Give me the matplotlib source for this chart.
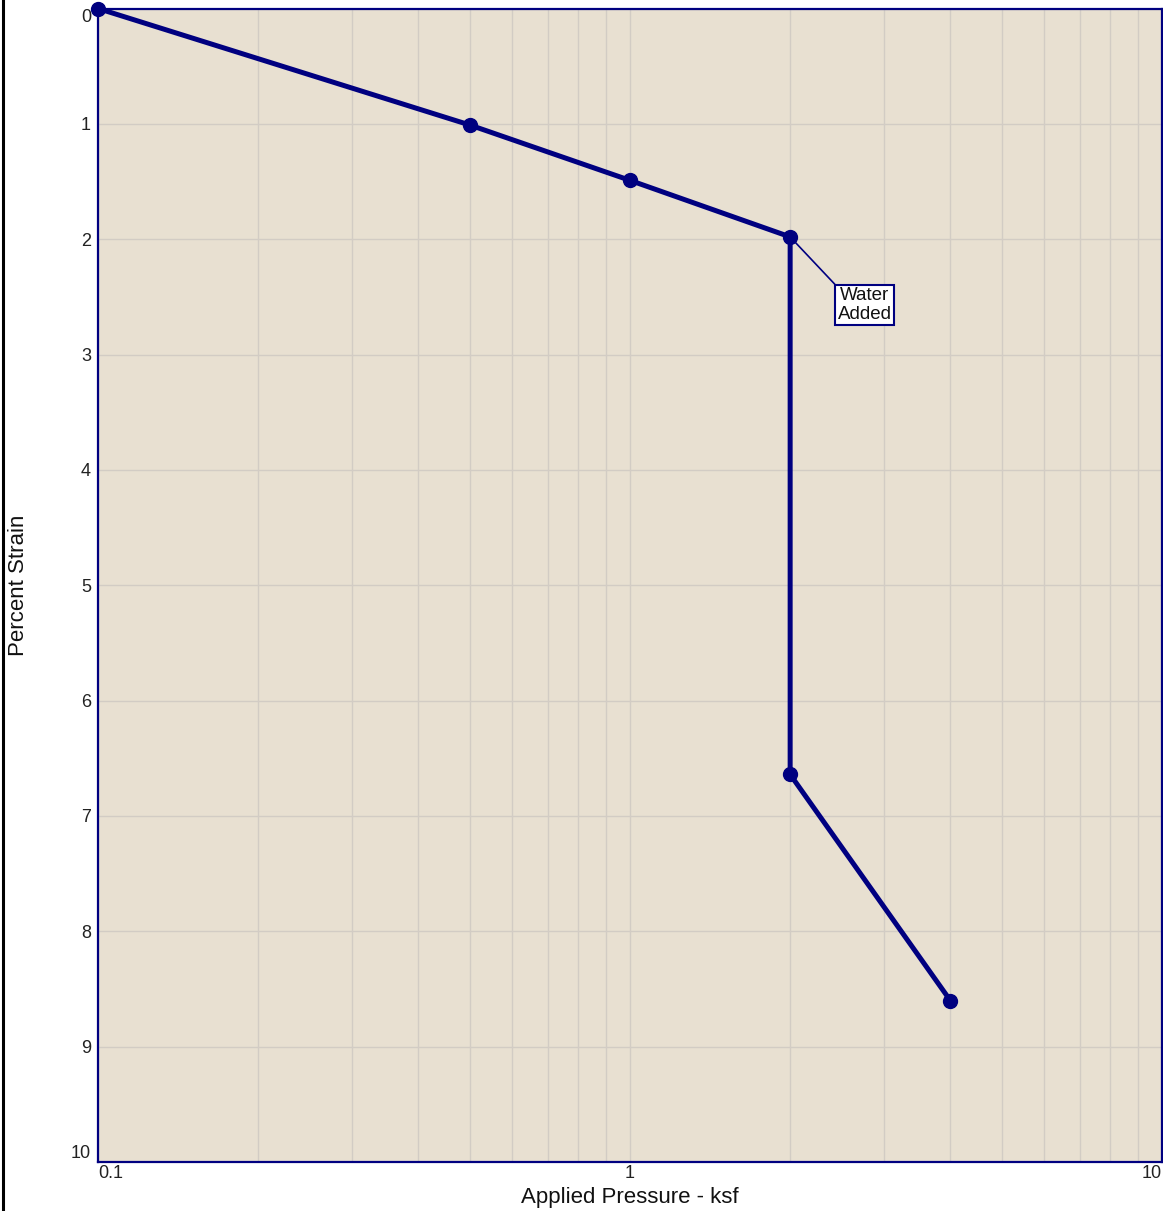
import matplotlib
matplotlib.use("Agg")
import matplotlib.pyplot as plt
from matplotlib.lines import Line2D
from matplotlib.ticker import FixedLocator, NullFormatter

plt.rcParams['font.family'] = ['Liberation Sans', 'DejaVu Sans']

pressure = [0.1, 0.5, 1.0, 2.0, 2.0, 4.0]
strain = [0.0, 1.01, 1.49, 1.98, 6.64, 8.60]
y_ticks = [0, 1, 2, 3, 4, 5, 6, 7, 8, 9, 10]
x_ticks = [0.1, 1, 10]
x_tick_labels = ["0.1", "1", "10"]
annot_text = "Water\nAdded"
annot_point = (2.0, 1.98)
annot_text_pos = (2.76, 2.57)

W, H = 1163, 1211
fig = plt.figure(figsize=(W / 100, H / 100), dpi=100)
fig.patch.set_facecolor('white')
ax = fig.add_axes([98 / W, (H - 1162) / H, (1162 - 98) / W, (1162 - 8.5) / H])
ax.set_facecolor('#e8e0d1')

navy = '#000080'
ax.set_xscale('log')
ax.set_xlim(0.1, 10)
ax.set_ylim(10, 0)

minor = [m * d for d in (0.1, 1) for m in range(2, 10)]
ax.xaxis.set_major_locator(FixedLocator(x_ticks))
ax.xaxis.set_minor_locator(FixedLocator(minor))
ax.xaxis.set_minor_formatter(NullFormatter())
ax.set_xticklabels(x_tick_labels)
ax.set_yticks(y_ticks)
ax.set_yticklabels([str(v) for v in y_ticks])

ax.grid(True, which='both', axis='x', color='#d2ccc4', lw=1)
ax.grid(True, which='major', axis='y', color='#d2ccc4', lw=1)
ax.set_axisbelow(True)
ax.tick_params(which='both', length=0, labelsize=13, labelcolor='#222222')
ax.tick_params(axis='y', pad=5)
ax.tick_params(axis='x', pad=2)

xl = ax.get_xticklabels()
xl[0].set_ha('left')
xl[-1].set_ha('right')
yl = ax.get_yticklabels()
yl[0].set_va('top')
yl[-1].set_va('bottom')

for s in ax.spines.values():
    s.set_color(navy)
    s.set_linewidth(1.6)

ax.plot(pressure, strain, color=navy, lw=3.6, marker='o', ms=10,
        clip_on=False, zorder=5)

ax.annotate(annot_text, xy=annot_point, xytext=annot_text_pos,
            ha='center', va='center', fontsize=13.5, color='#111111',
            linespacing=1.12,
            bbox=dict(boxstyle='square,pad=0.12', fc='white', ec=navy, lw=1.5),
            arrowprops=dict(arrowstyle='-', color=navy, lw=1.2,
                            shrinkA=0, shrinkB=0, relpos=(0, 1)),
            zorder=6)

ax.set_xlabel('Applied Pressure - ksf', fontsize=16, color='#111111')
ax.xaxis.set_label_coords(0.5, -(1197 - 1162) / (1162 - 8.5))
ax.xaxis.label.set_va('center')
ax.set_ylabel('Percent Strain', fontsize=16, color='#111111')
ax.yaxis.set_label_coords(-(98 - 18.5) / (1162 - 98), 0.5)
ax.yaxis.label.set_va('center')

fig.add_artist(Line2D([2.5 / W, 2.5 / W], [0, 1], color='black', lw=2.2,
                      transform=fig.transFigure))

fig.savefig('out.png', dpi=100)
